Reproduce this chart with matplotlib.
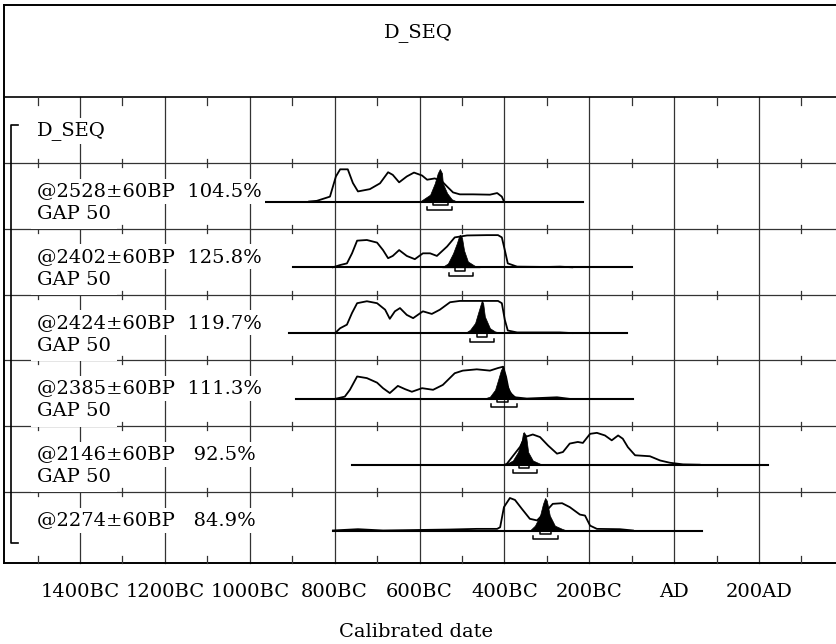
import numpy as np
import matplotlib.pyplot as plt

# sample labels (one per row) and sequence name
seq_name = "D_SEQ"
labels = ["@2528±60BP  104.5%", "@2402±60BP  125.8%", "@2424±60BP  119.7%",
          "@2385±60BP  111.3%", "@2146±60BP   92.5%", "@2274±60BP   84.9%"]
gap_labels = ["GAP 50", "GAP 50", "GAP 50", "GAP 50", "GAP 50", ""]

# extent of each plotted baseline (calendar years, BC negative)
baseline_start = [-969, -898, -908, -891, -759, -804]
baseline_end = [-215, -100, -111, -97, 221, 65]

# unmodelled (outline) distributions, relative probability in %
unmod_years = [
    [-860, -842, -811, -797, -787, -769, -757, -745, -717, -693, -674, -663, -648, -630,
     -613, -594, -582, -564, -547, -535, -521, -505, -474, -434, -417, -406, -401],
    [-804, -787, -771, -759, -747, -724, -700, -686, -674, -663, -648, -630, -611, -592,
     -575, -559, -535, -517, -488, -441, -415, -406, -399, -392, -370, -300, -269, -240],
    [-799, -787, -771, -759, -747, -724, -700, -681, -670, -658, -646, -630, -615, -592,
     -571, -552, -528, -505, -415, -406, -399, -392, -370, -269, -240],
    [-799, -776, -764, -747, -724, -700, -686, -670, -651, -634, -618, -594, -568, -545,
     -517, -498, -465, -434, -415, -403, -396, -389, -375, -347, -276, -246],
    [-399, -394, -363, -352, -340, -333, -316, -297, -276, -262, -246, -227, -215, -198,
     -182, -163, -147, -132, -121, -109, -92, -57, -33, -10, 21, 60],
    [-804, -745, -686, -528, -465, -417, -410, -401, -387, -375, -359, -340, -323, -304,
     -286, -264, -246, -222, -210, -198, -182, -128, -97],
]
unmod_prob = [
    [0, 2, 15, 77, 99, 99, 57, 31, 38, 56, 90, 82, 59, 77,
     89, 80, 67, 71, 62, 46, 28, 22, 22, 21, 26, 15, 0],
    [0, 7, 12, 43, 82, 84, 76, 53, 28, 35, 53, 35, 25, 43,
     43, 35, 64, 92, 98, 99, 99, 92, 53, 12, 2, 1, 2, 0],
    [0, 15, 26, 62, 92, 98, 92, 72, 44, 67, 77, 56, 46, 67,
     59, 72, 95, 99, 99, 92, 41, 8, 2, 2, 0],
    [0, 7, 28, 69, 64, 50, 33, 18, 40, 30, 22, 33, 28, 43,
     79, 87, 91, 87, 95, 99, 68, 22, 5, 1, 5, 0],
    [0, 3, 55, 85, 90, 93, 85, 59, 34, 39, 65, 70, 67, 95,
     98, 90, 75, 90, 80, 54, 29, 26, 13, 6, 1, 0],
    [0, 4, 0, 3, 5, 5, 10, 72, 100, 94, 67, 36, 31, 56,
     82, 84, 72, 49, 46, 15, 5, 4, 0],
]

# modelled (filled) distributions, relative probability in %
mod_years = [
    [-599, -575, -564, -557, -552, -547, -545, -535, -524, -512],
    [-547, -533, -521, -512, -507, -505, -500, -495, -486, -469, -458],
    [-493, -481, -469, -462, -455, -453, -450, -446, -434, -422, -403],
    [-450, -434, -422, -415, -408, -403, -401, -394, -382, -368, -356],
    [-399, -380, -368, -359, -356, -354, -349, -344, -333, -316, -300],
    [-340, -328, -316, -309, -304, -300, -293, -281, -264, -253],
]
mod_prob = [
    [0, 21, 56, 87, 100, 87, 56, 26, 7, 0],
    [0, 12, 43, 74, 95, 100, 92, 52, 18, 4, 0],
    [0, 10, 31, 62, 92, 100, 92, 51, 15, 5, 0],
    [0, 7, 28, 58, 89, 100, 89, 43, 12, 2, 0],
    [0, 13, 39, 75, 98, 100, 90, 39, 13, 3, 0],
    [0, 15, 46, 82, 100, 92, 46, 15, 5, 0],
]

# 68.2% and 95.4% ranges
range68 = [(-568, -533), (-517, -493), (-465, -441), (-418, -392), (-366, -342), (-316, -290)]
range95 = [(-582, -524), (-531, -474), (-481, -425), (-432, -370), (-380, -323), (-333, -274)]

tick_years = [-1400, -1200, -1000, -800, -600, -400, -200, 0, 200]
tick_labels = ["1400BC", "1200BC", "1000BC", "800BC", "600BC", "400BC", "200BC", "AD", "200AD"]
minor_years = [-1500, -1300, -1100, -900, -700, -500, -300, -100, 100, 300]

# layout (pixels from top)
W, H = 836, 644
px_per_year = 679 / 1600
x_min = -1400 - 80 / px_per_year
x_max = x_min + W / px_per_year
x_left = x_min + 4 / px_per_year
top, head, bottom = 5, 97, 563
row0 = 163
row_h = 65.8
amp = 32.5
font = "DejaVu Serif"
fs = 14
grid_c = "#333333"

fig = plt.figure(figsize=(W / 100, H / 100), dpi=100)
ax = fig.add_axes([0, 0, 1, 1])
ax.set_xlim(x_min, x_max)
ax.set_ylim(H, 0)
ax.axis("off")

# frame
ax.plot([x_left, x_left], [top, bottom], color="black", lw=1.4)
ax.plot([x_left, x_max], [top, top], color="black", lw=1.4)
ax.plot([x_left, x_max], [head, head], color="black", lw=1.2)
ax.plot([x_left, x_max], [bottom, bottom], color="black", lw=1.4)
seps = [row0 + i * row_h for i in range(6)]
for y in seps:
    ax.plot([x_left, x_max], [y, y], color=grid_c, lw=0.9, zorder=1)

# grid and ticks
for t in tick_years:
    ax.plot([t, t], [head, bottom], color=grid_c, lw=0.9, zorder=1)
for m in minor_years:
    ax.plot([m, m], [head, head + 8], color=grid_c, lw=0.9)
    ax.plot([m, m], [bottom - 7, bottom], color=grid_c, lw=0.9)
    for y in seps:
        ax.plot([m, m], [y - 4, y + 4], color=grid_c, lw=0.9)

# title and axis texts
ax.text((x_min + x_max) / 2, 33, seq_name, ha="center", va="center", family=font, fontsize=fs)
for t, lab in zip(tick_years, tick_labels):
    ax.text(t, 592, lab, ha="center", va="center", family=font, fontsize=fs)
ax.text((x_min + x_max) / 2 - 2 / px_per_year, 632, "Calibrated date", ha="center", va="center",
        family=font, fontsize=fs)

box = dict(facecolor="white", edgecolor="none", pad=2.5)
gap_box = dict(facecolor="white", edgecolor="none", pad=4.5)
lx = x_min + 37 / px_per_year
ax.text(lx, 131, seq_name, ha="left", va="center", family=font, fontsize=fs, bbox=box, zorder=5)

# sequence bracket
bx0 = x_min + 11 / px_per_year
bx1 = x_min + 18 / px_per_year
ax.plot([bx1, bx0, bx0, bx1], [125, 125, 543, 543], color="black", lw=1.2)

for i in range(6):
    rt = row0 + i * row_h
    base = rt + 38.5
    ax.plot([baseline_start[i], baseline_end[i]], [base, base], color="black", lw=1.5, zorder=3)
    uy = base - np.array(unmod_prob[i]) / 100 * amp
    ax.plot(unmod_years[i], uy, color="black", lw=1.3, zorder=3)
    my = base - np.array(mod_prob[i]) / 100 * amp
    ax.fill_between(mod_years[i], my, base, color="black", lw=0.5, zorder=4)
    for (a, b), dy in [(range68[i], 3.5), (range95[i], 8.5)]:
        yb = base + dy
        ax.plot([a, a, b, b], [yb - 3, yb, yb, yb - 3], color="black", lw=1.1, zorder=4)
    if gap_labels[i]:
        ax.text(lx, rt + 51, gap_labels[i], ha="left", va="center", family=font, fontsize=fs,
                bbox=gap_box, zorder=5)
    ax.text(lx, rt + 28, labels[i], ha="left", va="center", family=font, fontsize=fs,
            bbox=box, zorder=6)

fig.savefig("out.png", dpi=100, facecolor="white")
